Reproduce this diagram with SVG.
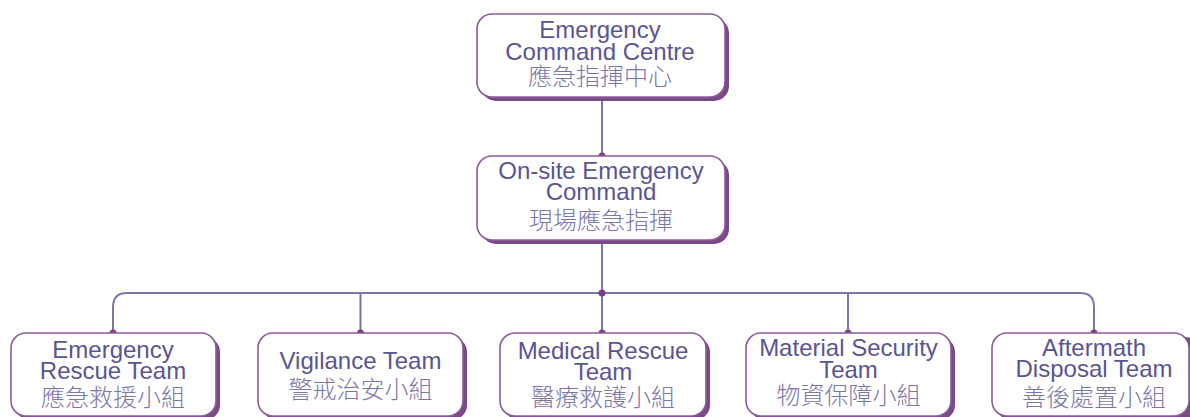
<svg xmlns="http://www.w3.org/2000/svg" width="1190" height="417" viewBox="0 0 1190 417">
<style>
.shadow{fill:#7b4a86;}
.box{fill:#ffffff;stroke:#8b5c99;stroke-width:1.6;}
.line{fill:none;stroke:#8072aa;stroke-width:2;}
.dot{fill:#7b3f83;}
.en{font-family:"Liberation Sans",Arial,sans-serif;font-size:24px;fill:#5a5592;text-anchor:middle;}
.zh{font-family:"Noto Sans CJK TC","Noto Sans CJK SC",sans-serif;font-size:24px;font-weight:300;fill:#7d77a8;text-anchor:middle;}
</style>
<rect width="1190" height="417" fill="#ffffff"/>
<g id="connectors">
<path class="line" d="M602 97 V156"/>
<path class="line" d="M602 240 V333"/>
<path class="line" d="M113 333 V307 Q113 293 127 293 H1080 Q1094 293 1094 307 V333"/>
<path class="line" d="M360.5 293 V333"/>
<path class="line" d="M848 293 V333"/>
<circle class="dot" cx="602" cy="156" r="3.5"/>
<circle class="dot" cx="602" cy="293" r="3.5"/>
<circle class="dot" cx="113" cy="333" r="3.5"/>
<circle class="dot" cx="360.5" cy="333" r="3.5"/>
<circle class="dot" cx="602" cy="333" r="3.5"/>
<circle class="dot" cx="848" cy="333" r="3.5"/>
<circle class="dot" cx="1094" cy="333" r="3.5"/>
</g>
<g id="node-ecc">
<rect class="shadow" x="481" y="18" width="248" height="83" rx="15"/>
<rect class="box" x="477" y="14" width="248" height="83" rx="15"/>
<text class="en" x="600" y="38">Emergency</text>
<text class="en" x="600" y="60">Command Centre</text>
<text class="zh" x="600" y="85">應急指揮中心</text>
</g>
<g id="node-onsite">
<rect class="shadow" x="481" y="160" width="248" height="84" rx="15"/>
<rect class="box" x="477" y="156" width="248" height="84" rx="15"/>
<text class="en" x="601" y="179">On-site Emergency</text>
<text class="en" x="601" y="200">Command</text>
<text class="zh" x="601" y="229">現場應急指揮</text>
</g>
<g id="node-rescue">
<rect class="shadow" x="15" y="337" width="205" height="83" rx="15"/>
<rect class="box" x="11" y="333" width="205" height="83" rx="15"/>
<text class="en" x="113" y="358">Emergency</text>
<text class="en" x="113" y="379">Rescue Team</text>
<text class="zh" x="113" y="406">應急救援小組</text>
</g>
<g id="node-vigilance">
<rect class="shadow" x="262" y="337" width="205" height="83" rx="15"/>
<rect class="box" x="258" y="333" width="205" height="83" rx="15"/>
<text class="en" x="360.5" y="369">Vigilance Team</text>
<text class="zh" x="360.5" y="398">警戒治安小組</text>
</g>
<g id="node-medical">
<rect class="shadow" x="504" y="337" width="206" height="83" rx="15"/>
<rect class="box" x="500" y="333" width="206" height="83" rx="15"/>
<text class="en" x="603" y="359">Medical Rescue</text>
<text class="en" x="603" y="380">Team</text>
<text class="zh" x="603" y="406">醫療救護小組</text>
</g>
<g id="node-material">
<rect class="shadow" x="750" y="337" width="205" height="83" rx="15"/>
<rect class="box" x="746" y="333" width="205" height="83" rx="15"/>
<text class="en" x="848.5" y="356">Material Security</text>
<text class="en" x="848.5" y="378">Team</text>
<text class="zh" x="848.5" y="404">物資保障小組</text>
</g>
<g id="node-aftermath">
<rect class="shadow" x="996" y="337" width="204" height="83" rx="15"/>
<rect class="box" x="992" y="333" width="197" height="83" rx="15"/>
<text class="en" x="1094" y="356">Aftermath</text>
<text class="en" x="1094" y="377">Disposal Team</text>
<text class="zh" x="1094" y="406">善後處置小組</text>
</g>
</svg>
